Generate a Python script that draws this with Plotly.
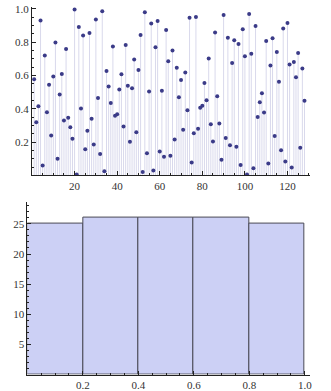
import plotly.graph_objects as go

values = [0.578, 0.32, 0.416, 0.93, 0.059, 0.72, 0.38, 0.545, 0.24, 0.594,
          0.798, 0.10, 0.486, 0.61, 0.33, 0.76, 0.347, 0.29, 0.22, 0.996,
          0.006, 0.892, 0.402, 0.84, 0.157, 0.269, 0.855, 0.34, 0.186, 0.937,
          0.465, 0.128, 0.986, 0.025, 0.628, 0.534, 0.435, 0.775, 0.359, 0.367,
          0.516, 0.608, 0.294, 0.784, 0.539, 0.202, 0.524, 0.696, 0.259, 0.633,
          0.843, 0.02, 0.98, 0.133, 0.504, 0.912, 0.03, 0.77, 0.927, 0.143,
          0.508, 0.112, 0.873, 0.686, 0.118, 0.751, 0.216, 0.647, 0.47, 0.573,
          0.275, 0.618, 0.392, 0.947, 0.078, 0.253, 0.951, 0.28, 0.406, 0.418,
          0.555, 0.451, 0.702, 0.308, 0.204, 0.859, 0.475, 0.312, 0.094, 0.963,
          0.225, 0.827, 0.182, 0.676, 0.812, 0.172, 0.79, 0.063, 0.878, 0.716,
          0.006, 0.97, 0.731, 0.043, 0.898, 0.351, 0.439, 0.494, 0.378, 0.808,
          0.072, 0.661, 0.824, 0.237, 0.741, 0.563, 0.151, 0.882, 0.084, 0.916,
          0.667, 0.047, 0.682, 0.59, 0.735, 0.167, 0.643, 0.449]
index = list(range(1, len(values) + 1))

top_xticks = [20, 40, 60, 80, 100, 120]
top_yticks = [0.2, 0.4, 0.6, 0.8, 1.0]
hist_xticks = [0.2, 0.4, 0.6, 0.8, 1.0]
hist_yticks = [5, 10, 15, 20, 25]

stem_x, stem_y = [], []
for i, v in zip(index, values):
    stem_x += [i, i, None]
    stem_y += [0, v, None]

font = dict(family="Liberation Serif", size=11, color="#333333")

fig = go.Figure()
fig.add_trace(go.Scatter(x=stem_x, y=stem_y, mode="lines",
                         line=dict(color="#d9d9ec", width=1),
                         xaxis="x", yaxis="y", hoverinfo="skip", showlegend=False))
fig.add_trace(go.Scatter(x=index, y=values, mode="markers",
                         marker=dict(color="#3b3b88", size=4),
                         xaxis="x", yaxis="y", showlegend=False))
fig.add_trace(go.Histogram(x=values, xbins=dict(start=0, end=1.0, size=0.2),
                           marker=dict(color="#ccd0f5", line=dict(color="#4a4a55", width=1)),
                           xaxis="x2", yaxis="y2", showlegend=False))

axis_common = dict(showgrid=False, zeroline=False, showline=True, linecolor="#222222",
                   linewidth=1, ticks="inside", tickcolor="#222222", tickfont=font,
                   ticklabeloverflow="allow")

fig.update_layout(
    width=331, height=391,
    margin=dict(l=0, r=0, t=0, b=0),
    paper_bgcolor="white", plot_bgcolor="white",
    bargap=0,
    xaxis=dict(domain=[0.0973, 0.9417], range=[0, 130.5], tickvals=top_xticks,
               ticklen=4, minor=dict(dtick=5, tick0=0, ticklen=2, ticks="inside", tickcolor="#222222"),
               anchor="y", **axis_common),
    yaxis=dict(domain=[0.5524, 0.9923], range=[0, 1.012], tickvals=top_yticks,
               tickformat=".1f", ticklen=4,
               minor=dict(dtick=0.05, tick0=0, ticklen=2, ticks="inside", tickcolor="#222222"),
               anchor="x", **axis_common),
    xaxis2=dict(domain=[0.0831, 0.9417], range=[0, 1.018], tickvals=hist_xticks,
                tickformat=".1f", ticklen=4,
                minor=dict(dtick=0.05, tick0=0, ticklen=2, ticks="inside", tickcolor="#222222"),
                anchor="y2", **axis_common),
    yaxis2=dict(domain=[0.0325, 0.4841], range=[0, 28.7], tickvals=hist_yticks,
                ticklen=4, minor=dict(dtick=1, tick0=0, ticklen=2, ticks="inside", tickcolor="#222222"),
                anchor="x2", **axis_common),
)

fig.write_html("out.html")
